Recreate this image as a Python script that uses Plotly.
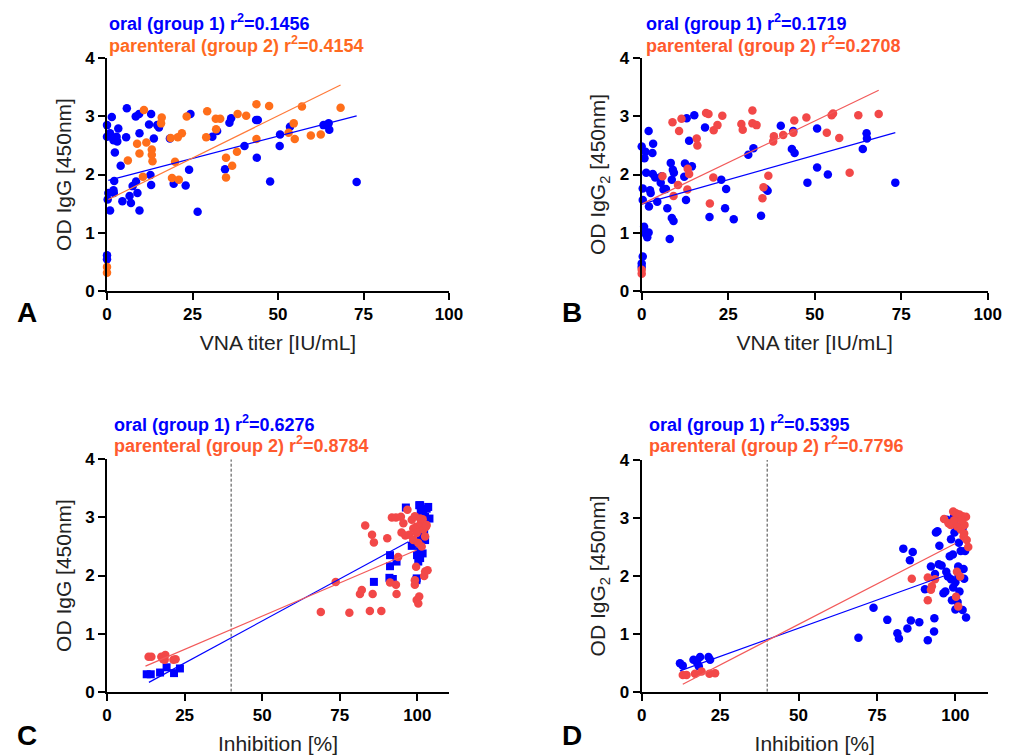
import plotly.graph_objects as go

# The page body adds an 8px offset; the figure is sized so the whole page fits the 1015x756 window.
OFF = 8
W, H = 1015 - OFF, 756 - OFF

# ---------------- Panel A: OD IgG vs VNA titer ----------------
a_oral_x = [0, 1.4, 0, 0.9, 1.9, 2.8, 3.3, 3.0, 2.3, 4.0, 2.1, 1.9, 2.0, 0.4, 0.2, 0.9, 0, 0,
            5.8, 5.6, 4.5, 7.0, 6.6, 7.5, 8.5, 8.9, 9.5, 8.4, 9.4, 9.5, 12.9, 12.3, 13.7, 12.7, 12.9,
            14.7, 15.2, 18.4, 19.5, 23, 24, 24.4, 26.5, 30.8, 32.2, 34.5, 35.8, 36.3, 40.2, 43.6,
            44.1, 43.8, 47.7, 50.5, 50.6, 53.5, 63.3, 64.8, 65, 73]
a_oral_y = [2.85, 2.99, 2.65, 2.71, 2.59, 2.65, 2.79, 2.57, 2.38, 2.15, 1.89, 1.73, 1.68, 1.68, 1.57, 1.38, 0.61, 0.54,
            3.14, 2.64, 1.54, 1.51, 1.63, 1.80, 1.88, 1.68, 1.38, 3.0, 3.04, 2.71, 3.04, 2.86, 2.62, 1.99, 1.82,
            2.85, 2.81, 2.62, 1.84, 1.81, 2.08, 3.04, 1.36, 2.65, 2.75, 2.09, 2.89, 2.97, 2.49, 2.94,
            2.94, 2.29, 1.88, 2.49, 2.69, 2.82, 2.85, 2.88, 2.77, 1.87]
a_par_x = [0, 0, 10.8, 8.8, 9.5, 11.5, 6.1, 10.5, 13.1, 13.1, 13.3, 16, 15.8, 18.6, 19.9, 19, 21, 20.7,
           21.9, 23.3, 29, 29.3, 31.9, 31.8, 33.1, 34.8, 34.8, 36.6, 38, 38.2, 40.7, 43.7, 43.7, 47.4,
           53.1, 54.6, 54.9, 57, 59.6, 62.5, 68.3]
a_par_y = [0.41, 0.31, 3.11, 2.53, 2.36, 2.55, 2.24, 1.96, 2.43, 2.34, 2.23, 2.98, 2.88, 2.63, 2.22, 1.94, 1.91, 2.64,
           2.71, 3.0, 2.64, 3.09, 2.78, 2.96, 2.96, 2.29, 1.95, 2.15, 2.39, 3.04, 3.01, 3.21, 2.61, 3.18,
           2.72, 2.88, 2.61, 3.17, 2.67, 2.69, 3.15]
a_oral_fit_x = [0.4, 73]
a_oral_fit_y = [1.90, 3.01]
a_par_fit_x = [0.4, 68.3]
a_par_fit_y = [1.57, 3.54]

# ---------------- Panel B: OD IgG2 vs VNA titer ----------------
b_oral_x = [0, 0.8, 1.1, 2.0, 1.3, 0.3, 0.3, 2.1, 0.7, 1.0, 1.6, 2.0, 0.3, 0, 0, 3.3, 3.1, 3.2, 3.9,
            2.4, 2.6, 4.5, 5.5, 5.8, 6.3, 7.0, 7.4, 8.1, 8.4, 9.0, 9.3, 8.7, 8.7, 9.2, 12.5, 12.3, 12.8,
            13, 13.7, 14.5, 15.2, 18.3, 19.6, 23, 24.4, 24.1, 26.6, 30.8, 32.3, 34.5, 35.9, 36.4, 40.2,
            43.4, 43.8, 44.2, 47.9, 50.7, 50.7, 53.8, 63.9, 65, 65.1, 73.3]
b_oral_y = [2.48, 2.28, 2.39, 2.75, 2.03, 1.76, 1.56, 1.45, 1.10, 0.99, 0.92, 1.0, 0.59, 0.47, 0.41, 2.53, 2.37, 2.01, 1.95,
            1.73, 1.68, 1.53, 1.86, 1.97, 1.74, 1.75, 1.42, 0.89, 2.2, 2.08, 2.03, 1.91, 1.25, 1.2, 2.19, 1.96, 1.56,
            2.97, 2.58, 2.14, 3.02, 2.81, 1.27, 1.91, 1.75, 1.42, 1.23, 2.34, 2.45, 1.29, 1.75, 1.72, 2.84,
            2.44, 2.75, 2.37, 1.86, 2.79, 2.12, 2.0, 2.44, 2.71, 2.62, 1.86]
b_par_x = [0, 0, 6, 8.9, 10.8, 11.5, 9.2, 10.5, 13.2, 13.3, 13.7, 15.9, 16.1, 18.6, 19.3, 19.7, 20.7,
           20.8, 21.9, 23.3, 28.8, 29.2, 32, 32, 33.2, 34.9, 35.2, 36.6, 38.2, 38, 40.9, 43.8, 44.1,
           47.6, 53.5, 54.9, 55.3, 57.1, 60.1, 62.6, 68.5]
b_par_y = [0.36, 0.29, 1.97, 2.9, 2.75, 2.96, 1.63, 1.82, 1.74, 2.10, 2.01, 2.62, 2.5, 3.06, 3.04, 1.50, 1.95,
           2.76, 2.85, 3.01, 2.87, 2.77, 3.1, 2.88, 2.85, 1.59, 1.78, 1.98, 2.66, 2.57, 2.68, 2.72, 2.93,
           2.98, 2.72, 3.02, 3.05, 2.63, 2.03, 3.02, 3.04]
b_oral_fit_x = [0, 73.3]
b_oral_fit_y = [1.49, 2.72]
b_par_fit_x = [0, 68.5]
b_par_fit_y = [1.49, 3.45]

# ---------------- Panel C: OD IgG vs Inhibition ----------------
c_oral_x = [12.8, 14.1, 17.1, 19.2, 21.6, 23.5, 86, 91.2, 91.2, 91, 92.1, 93.3, 96.3, 98.2, 99.7, 99.9,
            100.3, 100.6, 101.1, 101.4, 101.7, 102.5, 103, 103.9, 102.5, 101, 102.2, 100.9, 103.5,
            101.9, 101.4, 99.8, 100.6, 100.9, 98.7, 99.8]
c_oral_y = [0.30, 0.30, 0.33, 0.42, 0.32, 0.40, 1.89, 2.35, 2.16, 1.96, 1.94, 2.24, 3.17, 2.51, 1.92, 2.35,
            2.24, 3.21, 3.09, 2.84, 2.38, 3.01, 3.15, 2.98, 2.61, 2.67, 2.72, 3.21, 3.18,
            3.07, 2.73, 2.55, 2.41, 2.30, 2.55, 1.95]
c_par_x = [13.4, 14.3, 17.5, 18.8, 18.6, 21.4, 22.1, 18.1, 68.9, 73.7, 78.1, 81.5, 82.1, 83.2, 84.7, 85.4,
           86, 85.6, 88.4, 90.3, 91.8, 91.2, 93.1, 93.1, 93.3, 93.8, 94.7, 94.9, 95.5, 96.1, 96.8, 97.4,
           98.2, 98.7, 98.7, 99.2, 99.6, 99.8, 99.2, 99.2, 99.6, 99.8, 100.3, 100.6, 100.3, 101.1, 101.7,
           101.9, 102.5, 102.8, 101.4, 102.2, 102.5, 103.3, 103, 100.9]
c_par_y = [0.60, 0.60, 0.60, 0.63, 0.55, 0.55, 0.56, 0.56, 1.37, 1.89, 1.36, 1.68, 1.75, 2.86, 1.39, 2.70,
           2.57, 1.68, 1.39, 2.64, 3.0, 1.88, 3.0, 1.84, 1.68, 2.32, 3.01, 2.74, 2.90, 2.69, 3.13, 2.70,
           2.96, 2.81, 2.61, 3.02, 2.84, 2.73, 1.92, 1.84, 2.15, 1.58, 1.52, 1.64, 2.56, 2.90, 2.97,
           2.79, 2.67, 2.84, 2.50, 1.99, 2.07, 2.09, 2.87, 2.98]
c_oral_fit_x = [13.5, 97.1]
c_oral_fit_y = [0.16, 2.58]
c_par_fit_x = [12.4, 99.8]
c_par_fit_y = [0.44, 2.44]

# ---------------- Panel D: OD IgG2 vs Inhibition ----------------
d_oral_x = [12.2, 13.1, 16.5, 18.6, 18.2, 17.7, 21.3, 21.8, 69.1, 73.9, 78.3, 81.5, 82.0, 83.4, 85.5, 86.4,
            84.7, 85.8, 88.5, 90.3, 91.2, 92.2, 93.3, 93.2, 93.5, 93.8, 94.3, 94.9, 94.7, 95.6, 96.2, 96.8,
            97.1, 97.6, 98.2, 98.6, 98.6, 98.9, 99.2, 99.3, 99.5, 99.7, 100, 100, 100.5, 100.7, 100.9, 101,
            101.1, 101.3, 101.7, 102.3, 102.3, 102.6, 102.8, 103.4, 103.1, 97.3]
d_oral_y = [0.49, 0.45, 0.55, 0.60, 0.44, 0.50, 0.60, 0.55, 0.93, 1.45, 1.24, 1.01, 0.92, 2.47, 2.27, 2.41,
            1.09, 1.23, 1.20, 1.77, 0.89, 2.16, 1.27, 1.04, 2.03, 2.75, 2.77, 2.52, 2.20, 2.18, 1.70, 1.73,
            2.07, 1.99, 2.34, 2.63, 1.94, 1.58, 2.37, 1.80, 3.02, 2.75, 1.89, 1.42, 2.85, 1.55, 2.16, 1.99,
            2.57, 1.73, 2.43, 2.82, 1.41, 2.12, 1.95, 1.28, 2.43, 2.97]
d_par_x = [13.1, 14.3, 17, 19.1, 21.6, 23.4, 86.1, 91.2, 91.2, 92.2, 92.5, 93.5, 96.4, 97.8, 98.5, 99.3,
           99.6, 100.2, 100.6, 101.3, 101.7, 102.3, 102.6, 102.9, 103.4, 103.6, 104.1, 102.8, 102,
           100.2, 100.9, 100.5, 101.5]
d_par_y = [0.29, 0.29, 0.31, 0.35, 0.31, 0.32, 1.95, 1.97, 1.58, 1.76, 1.82, 1.94, 2.98, 2.91, 2.88, 3.11,
           2.96, 3.08, 2.85, 3.06, 2.80, 3.03, 2.68, 2.88, 3.02, 2.62, 2.50, 2.73, 2.96,
           1.64, 1.47, 2.07, 1.99]
d_oral_fit_x = [12.2, 97]
d_oral_fit_y = [0.36, 2.01]
d_par_fit_x = [13.1, 100]
d_par_fit_y = [0.13, 2.56]

# ---------------- Texts ----------------
panel_letters = ["A", "B", "C", "D"]
r2_oral = ["0.1456", "0.1719", "0.6276", "0.5395"]
r2_par = ["0.4154", "0.2708", "0.8784", "0.7796"]
y_titles = ["OD IgG [450nm]", "OD IgG<sub>2</sub> [450nm]", "OD IgG [450nm]", "OD IgG<sub>2</sub> [450nm]"]
x_titles = ["VNA titer [IU/mL]", "VNA titer [IU/mL]", "Inhibition [%]", "Inhibition [%]"]
x_ticks_vna = [0, 25, 50, 75, 100]
x_ticks_inh = [0, 25, 50, 75, 100]
y_ticks = [0, 1, 2, 3, 4]
threshold = 40

BLUE = "#0000FF"
ORANGE = "#FF6E1A"
RED = "#F24848"
LEG_ORANGE_A = "#FF6A1F"
LEG_ORANGE = "#FF5A2E"

def px(x):
    return (x - OFF) / W

def py(y):
    return 1 - (y - OFF) / H

fig = go.Figure()

panels = [
    dict(ax="", oral=(a_oral_x, a_oral_y), par=(a_par_x, a_par_y), parc=ORANGE,
         ofit=(a_oral_fit_x, a_oral_fit_y), pfit=(a_par_fit_x, a_par_fit_y), pfc="#FF7A3A",
         osym="circle", xr=[0, 100], dash=False,
         dom_x=[px(107), px(449)], dom_y=[py(290.7), py(58.3)], legx=107, legy=(23, 45), legc=LEG_ORANGE_A,
         letter=(27, 312)),
    dict(ax="2", oral=(b_oral_x, b_oral_y), par=(b_par_x, b_par_y), parc=RED,
         ofit=(b_oral_fit_x, b_oral_fit_y), pfit=(b_par_fit_x, b_par_fit_y), pfc="#F25A5A",
         osym="circle", xr=[0, 100], dash=False,
         dom_x=[px(641.7), px(987.7)], dom_y=[py(290.7), py(58.3)], legx=644, legy=(23, 45), legc=LEG_ORANGE,
         letter=(572, 312)),
    dict(ax="3", oral=(c_oral_x, c_oral_y), par=(c_par_x, c_par_y), parc=RED,
         ofit=(c_oral_fit_x, c_oral_fit_y), pfit=(c_par_fit_x, c_par_fit_y), pfc="#F25A5A",
         osym="square", xr=[0, 110.2], dash=True,
         dom_x=[px(107), px(449)], dom_y=[py(691.7), py(459.3)], legx=112, legy=(423, 444), legc=LEG_ORANGE,
         letter=(27, 735)),
    dict(ax="4", oral=(d_oral_x, d_oral_y), par=(d_par_x, d_par_y), parc=RED,
         ofit=(d_oral_fit_x, d_oral_fit_y), pfit=(d_par_fit_x, d_par_fit_y), pfc="#F25A5A",
         osym="circle", xr=[0, 110.3], dash=True,
         dom_x=[px(641.7), px(987.7)], dom_y=[py(691.7), py(460)], legx=647, legy=(423, 444), legc=LEG_ORANGE,
         letter=(572, 735)),
]

annotations = []
for i, p in enumerate(panels):
    xa = "x" + p["ax"]
    ya = "y" + p["ax"]
    if p["dash"]:
        fig.add_trace(go.Scatter(x=[threshold, threshold], y=[0, 4], mode="lines",
                                 line=dict(color="#444444", width=1, dash="3px,2px"),
                                 xaxis=xa, yaxis=ya, showlegend=False, hoverinfo="skip"))
    fig.add_trace(go.Scatter(x=p["oral"][0], y=p["oral"][1], mode="markers",
                             marker=dict(color=BLUE, size=8.5 if p["osym"] == "circle" else 8,
                                         symbol=p["osym"]),
                             xaxis=xa, yaxis=ya, showlegend=False, cliponaxis=False))
    fig.add_trace(go.Scatter(x=p["par"][0], y=p["par"][1], mode="markers",
                             marker=dict(color=p["parc"], size=8.5, symbol="circle"),
                             xaxis=xa, yaxis=ya, showlegend=False, cliponaxis=False))
    fig.add_trace(go.Scatter(x=p["ofit"][0], y=p["ofit"][1], mode="lines",
                             line=dict(color=BLUE, width=1.2),
                             xaxis=xa, yaxis=ya, showlegend=False))
    fig.add_trace(go.Scatter(x=p["pfit"][0], y=p["pfit"][1], mode="lines",
                             line=dict(color=p["pfc"], width=1.2),
                             xaxis=xa, yaxis=ya, showlegend=False))

    xkey = "xaxis" + p["ax"]
    ykey = "yaxis" + p["ax"]
    fig.update_layout(**{
        xkey: dict(domain=p["dom_x"], range=p["xr"], anchor=ya, tickvals=x_ticks_vna if i < 2 else x_ticks_inh,
                   showgrid=False, zeroline=False, showline=True, linecolor="black", linewidth=2,
                   ticks="outside", ticklen=7, tickwidth=2, tickcolor="black", automargin=False,
                   tickfont=dict(family="Arial", size=17, color="black", weight="bold"),
                   title=dict(text=x_titles[i], font=dict(family="Arial", size=21, color="#222222"), standoff=12)),
        ykey: dict(domain=p["dom_y"], range=[0, 4], anchor=xa, tickvals=y_ticks,
                   showgrid=False, zeroline=False, showline=True, linecolor="black", linewidth=2,
                   ticks="outside", ticklen=7, tickwidth=2, tickcolor="black", automargin=False,
                   tickfont=dict(family="Arial", size=17, color="black", weight="bold"),
                   title=dict(text=y_titles[i], font=dict(family="Arial", size=21, color="#222222"), standoff=8)),
    })

    annotations.append(dict(x=px(p["legx"]), y=py(p["legy"][0]), xref="paper", yref="paper",
                            xanchor="left", yanchor="middle", showarrow=False,
                            text="oral (group 1) r<sup>2</sup>=" + r2_oral[i],
                            font=dict(family="Arial", size=18, color=BLUE, weight="bold")))
    annotations.append(dict(x=px(p["legx"]), y=py(p["legy"][1]), xref="paper", yref="paper",
                            xanchor="left", yanchor="middle", showarrow=False,
                            text="parenteral (group 2) r<sup>2</sup>=" + r2_par[i],
                            font=dict(family="Arial", size=18, color=p["legc"], weight="bold")))
    annotations.append(dict(x=px(p["letter"][0]), y=py(p["letter"][1]), xref="paper", yref="paper",
                            xanchor="center", yanchor="middle", showarrow=False,
                            text=panel_letters[i],
                            font=dict(family="Arial", size=28, color="black", weight="bold")))

fig.update_layout(width=W, height=H, autosize=False,
                  margin=dict(l=0, r=0, t=0, b=0, pad=0, autoexpand=False),
                  paper_bgcolor="white", plot_bgcolor="white", showlegend=False,
                  annotations=annotations)

fig.write_html("out.html")
